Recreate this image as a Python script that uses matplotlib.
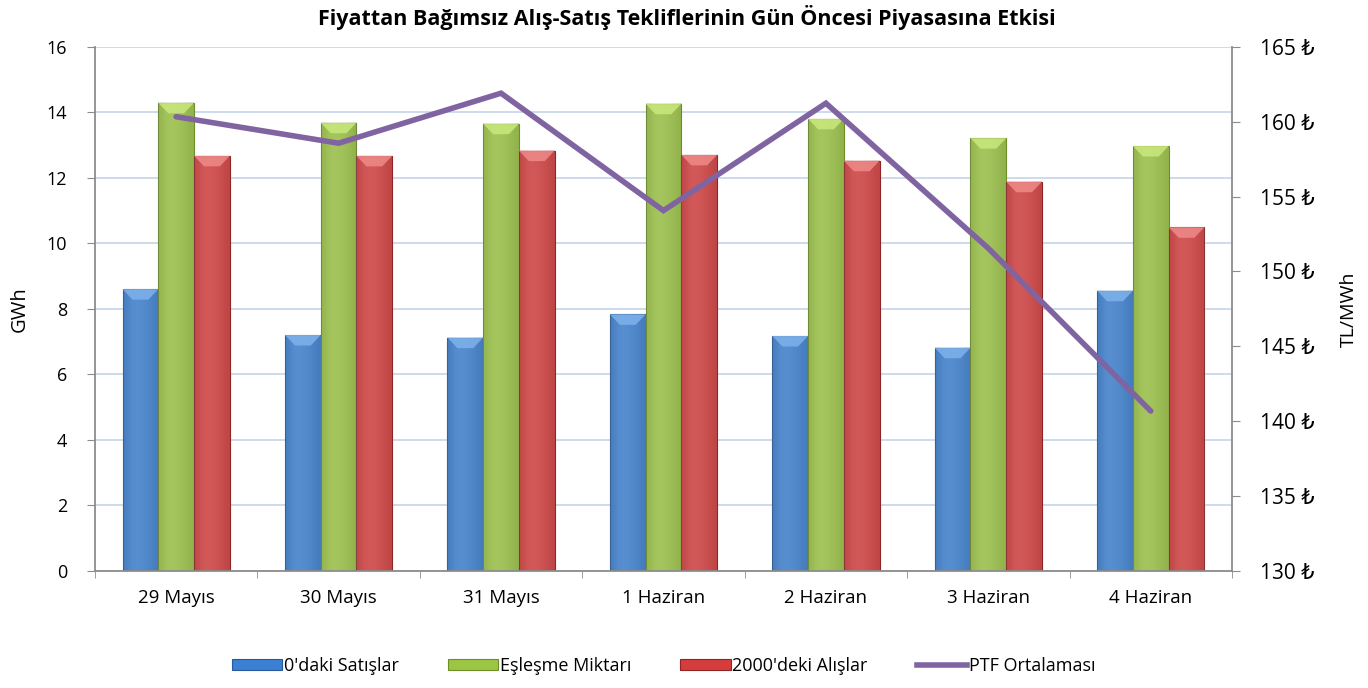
import numpy as np
import matplotlib
matplotlib.use('Agg')
import matplotlib.pyplot as plt
from matplotlib.patches import Patch, Polygon
from matplotlib.lines import Line2D
from matplotlib.ticker import FuncFormatter

plt.rcParams['font.family'] = ['Open Sans', 'DejaVu Sans']

# veriler
gunler = ['29 Mayıs', '30 Mayıs', '31 Mayıs', '1 Haziran', '2 Haziran', '3 Haziran', '4 Haziran']
sifir_satis = [8.60, 7.20, 7.12, 7.83, 7.17, 6.81, 8.55]
eslesme = [14.29, 13.68, 13.65, 14.26, 13.80, 13.21, 12.97]
alis_2000 = [12.67, 12.67, 12.83, 12.70, 12.52, 11.88, 10.49]
ptf_ort = [160.33, 158.56, 161.90, 154.06, 161.23, 151.54, 140.67]

seri_adlari = ["0'daki Satışlar", 'Eşleşme Miktarı', "2000'deki Alışlar", 'PTF Ortalaması']

# renkler: (gövde, kenar, üst ışık)
renkler = [('#3b80d2', '#285a9a', '#7fb2ec'),
           ('#9cc544', '#6d8f2a', '#c9e87c'),
           ('#d53d3d', '#8f2424', '#f08a8a')]
cizgi_renk = '#8064a2'
grid_renk = '#c9d8ec'
eksen_renk = '#8c8c8c'

fig = plt.figure(figsize=(13.68, 6.88), dpi=100)
ax = fig.add_axes([0.0694, 0.1703, 0.8312, 0.7617])
ax2 = ax.twinx()

x = np.arange(len(gunler))
w = 0.22


def bevel_bar(ax, xs, vals, renk):
    govde, kenar, isik = renk
    bars = ax.bar(xs, vals, width=w, color=govde, edgecolor=kenar, linewidth=0.8, zorder=2)
    for b in bars:
        x0, bw, h = b.get_x(), b.get_width(), b.get_height()
        # yatay gölgelendirme
        grad = np.array([[-0.3, 0.35, 0.55, 0.45, 0.2, 0.0, -0.45]])
        ax.imshow(grad, extent=[x0, x0 + bw, 0, h], aspect='auto', cmap='Greys_r',
                  vmin=-1.5, vmax=1.5, alpha=0.2, zorder=2.1, clip_path=b,
                  interpolation='bicubic')
        # üst bevel
        d = bw * 0.28
        dh = 0.32
        tri = Polygon([(x0, h), (x0 + bw, h), (x0 + bw - d, h - dh), (x0 + d, h - dh)],
                      closed=True, facecolor=isik, edgecolor='none', alpha=0.85, zorder=2.2)
        ax.add_patch(tri)
    return bars


bevel_bar(ax, x - w, sifir_satis, renkler[0])
bevel_bar(ax, x, eslesme, renkler[1])
bevel_bar(ax, x + w, alis_2000, renkler[2])

ax2.plot(x, ptf_ort, color=cizgi_renk, linewidth=4, solid_capstyle='round',
         solid_joinstyle='miter', zorder=3)

# eksenler
ax.set_xlim(-0.5, len(gunler) - 0.5)
ax.set_ylim(0, 16)
ax.set_yticks(np.arange(0, 17, 2))
ax2.set_ylim(130, 165)
ax2.set_yticks(np.arange(130, 166, 5))
ax2.yaxis.set_major_formatter(FuncFormatter(lambda v, p: f'{v:.0f} ₺'))

ax.yaxis.grid(True, color=grid_renk, linewidth=1.3, zorder=0)
ax.set_axisbelow(True)

ax.set_xticks(x)
ax.set_xticklabels(gunler, fontsize=13.5)
ax.set_xticks(np.arange(-0.5, len(gunler), 1), minor=True)
ax.tick_params(axis='x', which='major', length=0, pad=13)
ax.tick_params(axis='x', which='minor', length=5, color=eksen_renk, direction='out')
ax.tick_params(axis='y', labelsize=13, length=6, color=eksen_renk, direction='out', pad=14)
ax2.tick_params(axis='y', labelsize=15, length=6, color=eksen_renk, direction='out', pad=14)

for a in (ax, ax2):
    a.spines['top'].set_visible(False)
    for s in ('left', 'right', 'bottom'):
        a.spines[s].set_color(eksen_renk)
        a.spines[s].set_linewidth(1.3)
ax.spines['right'].set_visible(False)
ax2.spines['left'].set_visible(False)
ax2.spines['bottom'].set_visible(False)

ax.set_ylabel('GWh', fontsize=14.5, labelpad=12)
ax2.set_ylabel('TL/MWh', fontsize=14, labelpad=18)

fig.text(0.502, 0.975, 'Fiyattan Bağımsız Alış-Satış Tekliflerinin Gün Öncesi Piyasasına Etkisi',
         ha='center', va='center', fontsize=15.5, fontweight='bold')

# lejant
tutamaklar = [Patch(facecolor=r[0], edgecolor=r[1], linewidth=0.8) for r in renkler]
tutamaklar.append(Line2D([0], [0], color=cizgi_renk, linewidth=4))
fig.legend(tutamaklar, seri_adlari, loc='center', bbox_to_anchor=(0.485, 0.032), ncol=4,
           frameon=False, fontsize=13, handlelength=2.8, handleheight=0.55,
           handletextpad=0.1, columnspacing=2.7)

fig.savefig('out.png', dpi=100, facecolor='white')
